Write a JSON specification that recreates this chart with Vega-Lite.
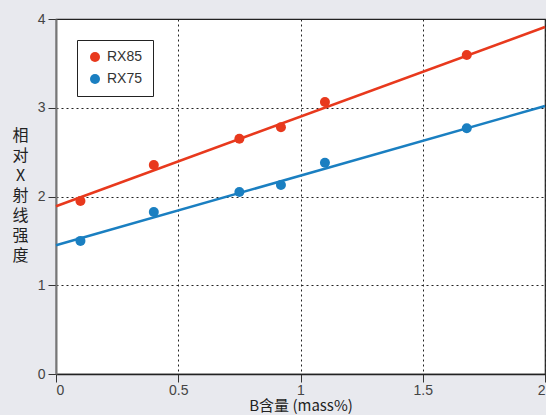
{
  "$schema": "https://vega.github.io/schema/vega-lite/v6.json",
  "width": 489,
  "height": 355,
  "autosize": {"type": "none"},
  "padding": {"left": 56, "top": 19, "right": 1, "bottom": 41},
  "background": "#e8e9ee",
  "config": {
    "view": {"fill": "white", "stroke": "#222", "strokeWidth": 1.2},
    "axis": {
      "labelFont": "Liberation Sans",
      "labelFontSize": 14,
      "labelColor": "#444",
      "tickColor": "#333",
      "tickSize": 8,
      "gridColor": "#222",
      "gridDash": [2, 3],
      "gridWidth": 1,
      "titleFont": "Noto Sans CJK SC",
      "titleFontWeight": "normal",
      "titleColor": "#222"
    }
  },
  "datasets": {
    "pts": [
      {"series": "RX85", "b": 0.1, "v": 1.95},
      {"series": "RX85", "b": 0.4, "v": 2.355},
      {"series": "RX85", "b": 0.75, "v": 2.65},
      {"series": "RX85", "b": 0.92, "v": 2.78},
      {"series": "RX85", "b": 1.1, "v": 3.065},
      {"series": "RX85", "b": 1.68, "v": 3.595},
      {"series": "RX75", "b": 0.1, "v": 1.5},
      {"series": "RX75", "b": 0.4, "v": 1.825},
      {"series": "RX75", "b": 0.75, "v": 2.05},
      {"series": "RX75", "b": 0.92, "v": 2.13},
      {"series": "RX75", "b": 1.1, "v": 2.38},
      {"series": "RX75", "b": 1.68, "v": 2.77}
    ],
    "fit": [
      {"series": "RX85", "b": 0, "v": 1.89},
      {"series": "RX85", "b": 2, "v": 3.91},
      {"series": "RX75", "b": 0, "v": 1.45},
      {"series": "RX75", "b": 2, "v": 3.02}
    ]
  },
  "layer": [
    {
      "data": {"name": "fit"},
      "transform": [{"filter": "datum.series === 'RX85'"}],
      "mark": {"type": "line", "strokeWidth": 2.5, "color": "#e8391d"},
      "encoding": {
        "x": {"field": "b", "type": "quantitative"},
        "y": {"field": "v", "type": "quantitative"}
      }
    },
    {
      "data": {"name": "fit"},
      "transform": [{"filter": "datum.series === 'RX75'"}],
      "mark": {"type": "line", "strokeWidth": 2.5, "color": "#1a7fc1"},
      "encoding": {
        "x": {"field": "b", "type": "quantitative"},
        "y": {"field": "v", "type": "quantitative"}
      }
    },
    {
      "data": {"name": "pts"},
      "mark": {"type": "point", "filled": true, "shape": "circle", "size": 100, "opacity": 1},
      "encoding": {
        "x": {
          "field": "b", "type": "quantitative",
          "scale": {"domain": [0, 2], "nice": false},
          "axis": {
            "values": [0, 0.5, 1, 1.5, 2],
            "format": "~g",
            "title": "B含量 (mass%)",
            "titleFontSize": 15,
            "titlePadding": 1,
            "titleBaseline": "top",
            "domainColor": "#222",
            "domainWidth": 1.5,
            "labelPadding": 1
          }
        },
        "y": {
          "field": "v", "type": "quantitative",
          "scale": {"domain": [0, 4], "nice": false},
          "axis": {
            "values": [0, 1, 2, 3, 4],
            "format": "~g",
            "title": ["相", "对", "X", "射", "线", "强", "度"],
            "titleAngle": 0,
            "titleFontSize": 16,
            "titleLineHeight": 20,
            "titleAlign": "center",
            "titleBaseline": "top",
            "titleX": -36,
            "titleY": 108,
            "domainColor": "#777",
            "domainWidth": 2,
            "labelPadding": 3
          }
        },
        "color": {
          "field": "series", "type": "nominal",
          "scale": {"domain": ["RX85", "RX75"], "range": ["#e8391d", "#1a7fc1"]},
          "legend": {
            "title": null,
            "orient": "none",
            "legendX": 21,
            "legendY": 21,
            "strokeColor": "#222",
            "fillColor": "white",
            "padding": 10,
            "symbolType": "circle",
            "symbolSize": 100,
            "symbolStrokeWidth": 0,
            "symbolOffset": 1,
            "labelOffset": 5,
            "labelFont": "Liberation Sans",
            "labelFontSize": 14,
            "labelColor": "#333",
            "rowPadding": 8
          }
        }
      }
    }
  ]
}
